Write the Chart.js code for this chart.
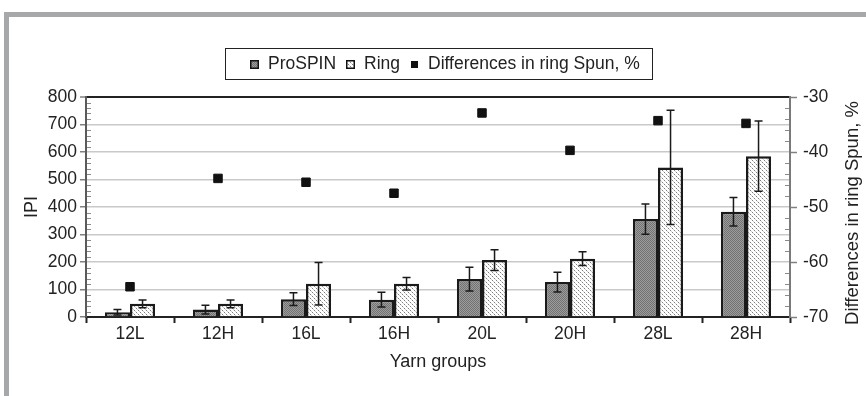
<!DOCTYPE html>
<html>
<head>
<meta charset="utf-8">
<script src="https://cdn.jsdelivr.net/npm/chart.js@4.4.1/dist/chart.umd.min.js"></script>
<style>
  html, body { margin: 0; padding: 0; background: #fff; }
  #wrap { position: relative; width: 866px; height: 396px; overflow: hidden; }
  #frame { position: absolute; left: 4px; top: 12px; right: 0; bottom: 0;
           border-top: 5px solid #a7a8aa; border-left: 5px solid #a7a8aa; }
  canvas { position: absolute; left: 0; top: 0; }
</style>
</head>
<body>
<div id="wrap">
  <div id="frame"></div>
  <canvas id="chart" width="866" height="396"></canvas>
</div>
<script>
const categories = ["12L", "12H", "16L", "16H", "20L", "20H", "28L", "28H"];
const prospin    = [17, 27, 65, 63, 138, 127, 356, 383];
const prospinErr = [10, 16, 23, 27, 43, 36, 55, 52];
const ring       = [48, 48, 121, 121, 207, 212, 544, 585];
const ringErr    = [14, 14, 77, 23, 38, 25, 208, 128];
const diffs      = [-64.5, -44.8, -45.5, -47.5, -32.9, -39.7, -34.3, -34.8];

const FONT = "'Liberation Sans', Arial, sans-serif";

const ctxTmp = document.createElement("canvas").getContext("2d");
const darkFill = (() => {
    const c = document.createElement("canvas");
    c.width = 2; c.height = 2;
    const g = c.getContext("2d");
    g.fillStyle = "#9c9c9c"; g.fillRect(0, 0, 2, 2);
    g.fillStyle = "#727272"; g.fillRect(0, 0, 1, 1); g.fillRect(1, 1, 1, 1);
    return ctxTmp.createPattern(c, "repeat");
})();
const lightFill = (() => {
    const c = document.createElement("canvas");
    c.width = 4; c.height = 4;
    const g = c.getContext("2d");
    g.fillStyle = "#ffffff"; g.fillRect(0, 0, 4, 4);
    g.fillStyle = "#7e7e7e";
    g.fillRect(0, 0, 1, 1); g.fillRect(2, 2, 1, 1);
    g.fillStyle = "#cfcfcf";
    g.fillRect(1, 1, 1, 1); g.fillRect(3, 3, 1, 1);
    return ctxTmp.createPattern(c, "repeat");
})();

Chart.defaults.font.family = FONT;
Chart.defaults.font.size = 17.5;
Chart.defaults.color = "#222";

// error bars on top of the bars
const errorBars = {
    id: "errorBars",
    afterDatasetsDraw(chart) {
        const { ctx } = chart;
        const y = chart.scales.y;
        const errs = [prospinErr, ringErr];
        ctx.save();
        ctx.strokeStyle = "#1a1a1a";
        ctx.lineWidth = 1.5;
        [0, 1].forEach(di => {
            const meta = chart.getDatasetMeta(di);
            const vals = chart.data.datasets[di].data;
            meta.data.forEach((bar, i) => {
                const yTop = y.getPixelForValue(vals[i] + errs[di][i]);
                const yBot = y.getPixelForValue(vals[i] - errs[di][i]);
                ctx.beginPath();
                ctx.moveTo(bar.x, yTop); ctx.lineTo(bar.x, yBot);
                ctx.moveTo(bar.x - 4, yTop); ctx.lineTo(bar.x + 4, yTop);
                ctx.moveTo(bar.x - 4, yBot); ctx.lineTo(bar.x + 4, yBot);
                ctx.stroke();
            });
        });
        ctx.restore();
    }
};

// minor ticks, right axis title, boxed legend
const extras = {
    id: "extras",
    beforeDatasetsDraw(chart) {
        const { ctx, chartArea: a } = chart;
        const y = chart.scales.y, y1 = chart.scales.y1;
        ctx.save();
        ctx.strokeStyle = "#8a8a8a";
        ctx.lineWidth = 1;
        ctx.beginPath();
        for (let v = 0; v <= 800; v += 20) {
            if (v % 100 === 0) continue;
            const py = Math.round(y.getPixelForValue(v)) + 0.5;
            ctx.moveTo(a.left + 1, py); ctx.lineTo(a.left + 5, py);
        }
        for (let v = -70; v <= -30; v += 2) {
            if (v % 10 === 0) continue;
            const py = Math.round(y1.getPixelForValue(v)) + 0.5;
            ctx.moveTo(a.right - 5, py); ctx.lineTo(a.right - 1, py);
        }
        ctx.stroke();
        ctx.restore();
    },
    afterDraw(chart) {
        const { ctx, chartArea: a } = chart;
        ctx.save();
        // right axis title, reading bottom to top
        ctx.translate(853, (a.top + a.bottom) / 2 + 6);
        ctx.rotate(-Math.PI / 2);
        ctx.font = "18.5px " + FONT;
        ctx.fillStyle = "#222";
        ctx.textAlign = "center";
        ctx.textBaseline = "middle";
        ctx.fillText("Differences in ring Spun, %", 0, 0);
        ctx.restore();

        // legend
        const ds = chart.data.datasets;
        ctx.save();
        ctx.font = "17.5px " + FONT;
        const items = ds.map(d => ({ label: d.label, w: ctx.measureText(d.label).width, d }));
        const sw = 9, gapT = 9, gapI = 10;
        let content = 0;
        items.forEach((it, i) => { content += sw + gapT + it.w + (i ? gapI : 0); });
        const padL = 24, padR = 13;
        const boxW = Math.round(content + padL + padR);
        const boxL = Math.round((a.left + a.right) / 2 - boxW / 2) + 0.5;
        const boxT = 48.5, boxH = 31;
        ctx.strokeStyle = "#222";
        ctx.lineWidth = 1;
        ctx.strokeRect(boxL, boxT, boxW, boxH);
        const cy = boxT + boxH / 2 + 0.5;
        let x = Math.round(boxL + padL);
        ctx.textBaseline = "middle";
        ctx.textAlign = "left";
        items.forEach(it => {
            if (it.d.type === "line") {
                ctx.fillStyle = "#111";
                ctx.fillRect(x + 1, Math.round(cy - 4), 7, 7);
            } else {
                const top = Math.round(cy - 5);
                ctx.fillStyle = it.d.backgroundColor;
                ctx.fillRect(x, top, sw, sw);
                ctx.strokeStyle = "#111";
                ctx.lineWidth = 1.5;
                ctx.strokeRect(x + 0.75, top + 0.75, sw - 1.5, sw - 1.5);
            }
            x += sw + gapT;
            ctx.fillStyle = "#222";
            ctx.fillText(it.label, x, cy);
            x = Math.round(x + it.w + gapI);
        });
        ctx.restore();
    }
};

new Chart(document.getElementById("chart"), {
    type: "bar",
    data: {
        labels: categories,
        datasets: [
            {
                label: "ProSPIN",
                data: prospin,
                backgroundColor: darkFill,
                borderColor: "#1a1a1a",
                borderWidth: 2.5,
                yAxisID: "y"
            },
            {
                label: "Ring",
                data: ring,
                backgroundColor: lightFill,
                borderColor: "#1a1a1a",
                borderWidth: 2.5,
                yAxisID: "y"
            },
            {
                label: "Differences in ring Spun, %",
                type: "line",
                data: diffs,
                showLine: false,
                pointStyle: "rect",
                pointRadius: 6,
                pointBackgroundColor: "#111",
                pointBorderColor: "#111",
                pointBorderWidth: 1,
                yAxisID: "y1",
                order: -1
            }
        ]
    },
    options: {
        responsive: false,
        animation: false,
        categoryPercentage: 0.57,
        barPercentage: 1,
        layout: { padding: { top: 97, left: 0, right: 0, bottom: 0 } },
        plugins: { legend: { display: false }, tooltip: { enabled: false } },
        scales: {
            x: {
                afterFit: s => { s.height = 79; },
                grid: { drawOnChartArea: false, drawTicks: true, tickLength: 6, tickColor: "#222", tickWidth: 2 },
                border: { color: "#222", width: 2 },
                ticks: { padding: 1, color: "#222" },
                title: { display: true, text: "Yarn groups", font: { size: 18 }, padding: { top: 0, bottom: 23 }, color: "#222" }
            },
            y: {
                position: "left",
                min: 0,
                max: 800,
                afterFit: s => { s.width = 86; },
                ticks: { stepSize: 100, padding: 3, color: "#222" },
                grid: {
                    color: c => c.tick && c.tick.value === 800 ? "#222" : "#c9c9c9",
                    lineWidth: c => c.tick && c.tick.value === 800 ? 2 : 1.5,
                    tickColor: "#808080",
                    tickWidth: 1.5,
                    tickLength: 6
                },
                border: { color: "#5a5a5a", width: 2 },
                title: { display: true, text: "IPI", font: { size: 18 }, padding: { top: 21, bottom: 0 }, color: "#222" }
            },
            y1: {
                position: "right",
                min: -70,
                max: -30,
                afterFit: s => { s.width = 76; },
                ticks: { stepSize: 10, padding: 6, color: "#222" },
                grid: { drawOnChartArea: false, tickColor: "#808080", tickWidth: 1.5, tickLength: 7 },
                border: { color: "#7a7a7a", width: 2 }
            }
        }
    },
    plugins: [errorBars, extras]
});
</script>
</body>
</html>
